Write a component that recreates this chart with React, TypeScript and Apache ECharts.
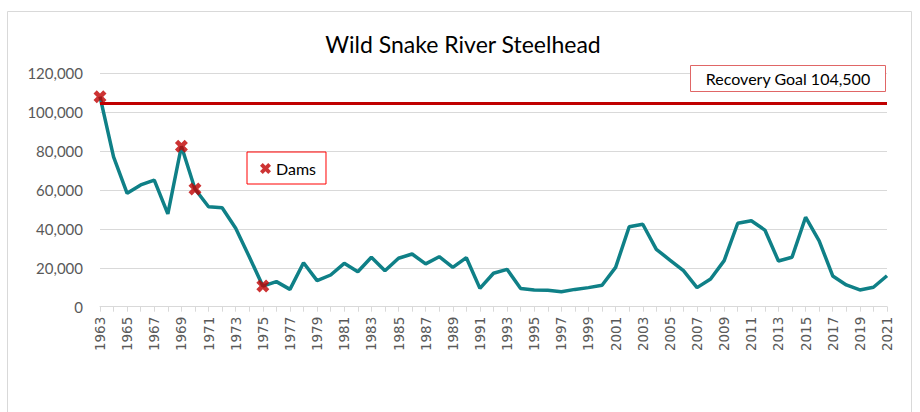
import React, { useEffect, useRef } from "react";
import * as echarts from "echarts";

const years = [
  "1963", "1964", "1965", "1966", "1967", "1968", "1969", "1970", "1971", "1972",
  "1973", "1974", "1975", "1976", "1977", "1978", "1979", "1980", "1981", "1982",
  "1983", "1984", "1985", "1986", "1987", "1988", "1989", "1990", "1991", "1992",
  "1993", "1994", "1995", "1996", "1997", "1998", "1999", "2000", "2001", "2002",
  "2003", "2004", "2005", "2006", "2007", "2008", "2009", "2010", "2011", "2012",
  "2013", "2014", "2015", "2016", "2017", "2018", "2019", "2020", "2021",
];

const steelhead = [
  108000, 77000, 58300, 62600, 65100, 47700, 82500, 60500, 51400, 50900,
  40300, 25700, 10600, 12900, 8900, 22600, 13400, 16300, 22300, 18000,
  25400, 18500, 24900, 27100, 22000, 25700, 20200, 25200, 9400, 17200,
  19200, 9400, 8600, 8400, 7700, 8900, 9800, 11000, 20200, 41100,
  42400, 29500, 24000, 18500, 9800, 14200, 23700, 42900, 44200, 39400,
  23500, 25400, 46000, 33900, 15800, 11200, 8600, 10000, 15900,
];

const damYears = ["1963", "1969", "1970", "1975"];
const recoveryGoal = 104500;
const yMin = 0;
const yMax = 120000;
const yInterval = 20000;

const xPath =
  "path://M0,2.5 L2.5,0 L5,2.5 L7.5,0 L10,2.5 L7.5,5 L10,7.5 L7.5,10 L5,7.5 L2.5,10 L0,7.5 L2.5,5 Z";

export default function App() {
  const ref = useRef<HTMLDivElement>(null);

  useEffect(() => {
    document.body.style.margin = "0";
    if (!ref.current) return;
    const chart = echarts.init(ref.current, undefined, { renderer: "svg" });

    const damData = damYears.map((y) => [y, steelhead[years.indexOf(y)]]);

    chart.setOption({
      animation: false,
      backgroundColor: "#ffffff",
      title: {
        text: "Wild Snake River Steelhead",
        left: 458,
        top: 27,
        textAlign: "center",
        textStyle: {
          fontFamily: "Lato",
          fontSize: 23,
          fontWeight: "normal",
          color: "#000000",
        },
      },
      legend: {
        left: 247,
        top: 152,
        orient: "horizontal",
        borderColor: "#ff0000",
        borderWidth: 1,
        padding: [8, 10, 7, 13],
        itemWidth: 11,
        itemHeight: 11,
        data: [{ name: "Dams", icon: xPath }],
        textStyle: {
          fontFamily: "Lato",
          fontSize: 16,
          color: "#000000",
          lineHeight: 17,
        },
        selectedMode: false,
      },
      grid: { left: 100, right: 33, top: 73.3, bottom: 105.3 },
      xAxis: {
        type: "category",
        data: years,
        boundaryGap: false,
        axisLine: { lineStyle: { color: "#d9d9d9", width: 1 } },
        axisTick: {
          show: true,
          interval: 0,
          length: 5,
          lineStyle: { color: "#d9d9d9" },
        },
        axisLabel: {
          interval: 1,
          rotate: 90,
          margin: 10,
          fontFamily: "DejaVu Sans",
          fontSize: 13.5,
          color: "#595959",
        },
        splitLine: { show: false },
      },
      yAxis: {
        type: "value",
        min: yMin,
        max: yMax,
        interval: yInterval,
        axisLine: { show: false },
        axisTick: { show: false },
        axisLabel: {
          margin: 17,
          fontFamily: "Lato",
          fontSize: 15,
          color: "#595959",
          formatter: (v: number) => v.toLocaleString("en-US"),
        },
        splitLine: { lineStyle: { color: "#d9d9d9", width: 1 } },
      },
      series: [
        {
          name: "Steelhead",
          type: "line",
          data: steelhead,
          symbol: "none",
          lineStyle: { color: "#0f8087", width: 3.5 },
          z: 3,
          markLine: {
            silent: true,
            symbol: "none",
            label: { show: false },
            lineStyle: { color: "#c00000", width: 3, type: "solid" },
            data: [{ yAxis: recoveryGoal }],
          },
        },
        {
          name: "Dams",
          type: "scatter",
          data: damData,
          symbol: xPath,
          symbolSize: 13,
          itemStyle: { color: "#c00000" },
          z: 5,
        },
      ],
      graphic: [
        {
          type: "rect",
          shape: { x: 7.5, y: 11.5, width: 904, height: 430 },
          style: { fill: "none", stroke: "#d9d9d9", lineWidth: 1 },
          silent: true,
          z: -10,
        },
        {
          type: "rect",
          shape: { x: 690.5, y: 65.5, width: 195, height: 26 },
          style: { fill: "#ffffff", stroke: "#e06666", lineWidth: 1 },
          z: 10,
        },
        {
          type: "text",
          x: 788,
          y: 78.5,
          style: {
            text: "Recovery Goal " + recoveryGoal.toLocaleString("en-US"),
            fontFamily: "Lato",
            fontSize: 16,
            fill: "#000000",
            align: "center",
            verticalAlign: "middle",
          },
          z: 11,
        },
      ],
    });

    return () => chart.dispose();
  }, []);

  return <div ref={ref} style={{ width: 920, height: 412 }} />;
}
